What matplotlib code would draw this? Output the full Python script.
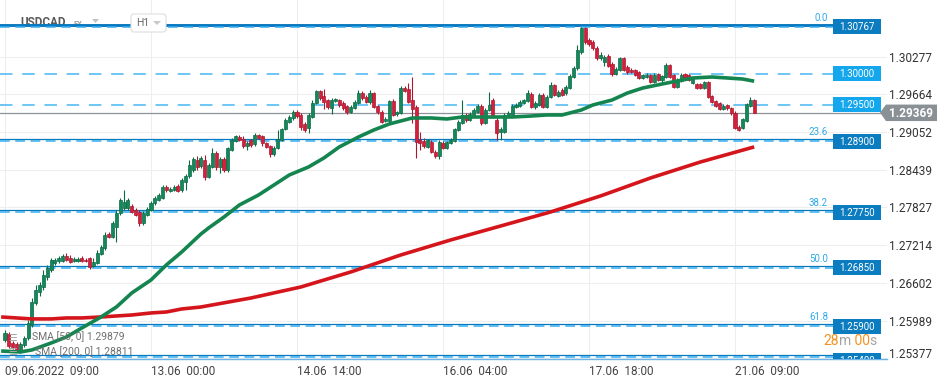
import matplotlib
matplotlib.use('Agg')
import matplotlib.pyplot as plt
import numpy as np
from matplotlib.patches import Rectangle, Polygon, FancyBboxPatch
from matplotlib.transforms import IdentityTransform

plt.rcParams['font.family'] = ['Roboto', 'DejaVu Sans']
plt.rcParams['lines.scale_dashes'] = False

# ---------------- data (USDCAD, H1) ----------------
opens = [
    1.25674, 1.25772, 1.25625, 1.25609, 1.25512, 1.25593, 1.25707, 1.25918, 1.26275, 1.26454,
    1.26535, 1.26698, 1.26811, 1.26925, 1.26958, 1.26958, 1.27039, 1.27006, 1.26958, 1.26958,
    1.27006, 1.26974, 1.27006, 1.26876, 1.26925, 1.27071, 1.27169, 1.27396, 1.27347, 1.27510,
    1.27737, 1.27819, 1.27819, 1.27851, 1.27786, 1.27754, 1.27575, 1.27705, 1.27786, 1.27900,
    1.27949, 1.27981, 1.28160, 1.28095, 1.28111, 1.28176, 1.28111, 1.28241, 1.28339, 1.28436,
    1.28598, 1.28501, 1.28598, 1.28322, 1.28485, 1.28712, 1.28485, 1.28615, 1.28436, 1.28761,
    1.28907, 1.28972, 1.28940, 1.28826, 1.28923, 1.28858, 1.29005, 1.28988, 1.28875, 1.28826,
    1.28696, 1.28793, 1.28923, 1.29102, 1.29216, 1.29281, 1.29378, 1.29330, 1.29183, 1.29118,
    1.29297, 1.29525, 1.29720, 1.29638, 1.29573, 1.29443, 1.29557, 1.29573, 1.29525, 1.29476,
    1.29378, 1.29443, 1.29525, 1.29687, 1.29622, 1.29541, 1.29687, 1.29476, 1.29378, 1.29232,
    1.29232, 1.29557, 1.29346, 1.29362, 1.29768, 1.29752, 1.29573, 1.29460, 1.28923, 1.28907,
    1.28810, 1.28891, 1.28728, 1.28663, 1.28875, 1.28793, 1.28875, 1.28907, 1.29086, 1.29200,
    1.29330, 1.29248, 1.29330, 1.29378, 1.29476, 1.29200, 1.29411, 1.29573, 1.29248, 1.29053,
    1.29053, 1.29313, 1.29330, 1.29460, 1.29476, 1.29525, 1.29557, 1.29671, 1.29460, 1.29492,
    1.29655, 1.29460, 1.29622, 1.29817, 1.29638, 1.29736, 1.29687, 1.29768, 1.29947, 1.30093,
    1.30353, 1.30743, 1.30548, 1.30516, 1.30418, 1.30256, 1.30191, 1.30288, 1.30158, 1.29996,
    1.30061, 1.30256, 1.30109, 1.30061, 1.30061, 1.30028, 1.29931, 1.29947, 1.29979, 1.29866,
    1.29996, 1.29898, 1.29947, 1.30142, 1.29979, 1.29785, 1.29882, 1.29996, 1.29979, 1.29849,
    1.29833, 1.29833, 1.29768, 1.29866, 1.29638, 1.29557, 1.29525, 1.29427, 1.29492, 1.29443,
    1.29362, 1.29135, 1.29118, 1.29232, 1.29476, 1.29573]

closes = [
    1.25788, 1.25577, 1.25560, 1.25512, 1.25609, 1.25707, 1.25950, 1.26291, 1.26486, 1.26568,
    1.26730, 1.26844, 1.26974, 1.26974, 1.27006, 1.27039, 1.26974, 1.26941, 1.26990, 1.26990,
    1.26958, 1.26958, 1.26860, 1.26941, 1.27088, 1.27185, 1.27380, 1.27347, 1.27575, 1.27737,
    1.27949, 1.27916, 1.27949, 1.27754, 1.27705, 1.27575, 1.27737, 1.27802, 1.27900, 1.27981,
    1.28030, 1.28160, 1.28111, 1.28127, 1.28160, 1.28095, 1.28274, 1.28339, 1.28517, 1.28615,
    1.28485, 1.28631, 1.28322, 1.28517, 1.28712, 1.28485, 1.28615, 1.28436, 1.28793, 1.28923,
    1.28988, 1.28923, 1.28826, 1.28875, 1.28842, 1.29005, 1.28956, 1.28875, 1.28810, 1.28696,
    1.28793, 1.28940, 1.29102, 1.29248, 1.29297, 1.29378, 1.29313, 1.29135, 1.29086, 1.29330,
    1.29525, 1.29720, 1.29606, 1.29541, 1.29460, 1.29573, 1.29590, 1.29492, 1.29443, 1.29378,
    1.29460, 1.29541, 1.29687, 1.29606, 1.29541, 1.29687, 1.29460, 1.29378, 1.29216, 1.29265,
    1.29557, 1.29330, 1.29378, 1.29768, 1.29720, 1.29541, 1.29427, 1.28891, 1.28875, 1.28826,
    1.28923, 1.28728, 1.28663, 1.28891, 1.28793, 1.28891, 1.28923, 1.29102, 1.29216, 1.29330,
    1.29248, 1.29346, 1.29411, 1.29476, 1.29200, 1.29411, 1.29492, 1.29297, 1.29037, 1.29102,
    1.29330, 1.29362, 1.29476, 1.29492, 1.29541, 1.29573, 1.29687, 1.29460, 1.29525, 1.29655,
    1.29460, 1.29622, 1.29817, 1.29655, 1.29703, 1.29655, 1.29785, 1.29963, 1.30093, 1.30386,
    1.30743, 1.30516, 1.30483, 1.30418, 1.30256, 1.30304, 1.30272, 1.30126, 1.29996, 1.30077,
    1.30256, 1.30061, 1.30028, 1.30028, 1.29979, 1.29931, 1.29979, 1.29979, 1.29866, 1.29979,
    1.29898, 1.29963, 1.30142, 1.29947, 1.29785, 1.29898, 1.29979, 1.29914, 1.29898, 1.29931,
    1.29768, 1.29768, 1.29866, 1.29622, 1.29541, 1.29476, 1.29427, 1.29476, 1.29443, 1.29362,
    1.29118, 1.29086, 1.29265, 1.29508, 1.29573, 1.29369]

highs = [
    1.25836, 1.25804, 1.25658, 1.25642, 1.25642, 1.25739, 1.25999, 1.26356, 1.26568, 1.26616,
    1.26811, 1.26893, 1.27006, 1.27006, 1.27039, 1.27071, 1.27088, 1.27055, 1.27023, 1.27023,
    1.27039, 1.27006, 1.27023, 1.27006, 1.27136, 1.27217, 1.27429, 1.27429, 1.27607, 1.27786,
    1.27981, 1.28111, 1.27981, 1.27884, 1.27819, 1.27786, 1.27770, 1.27835, 1.27932, 1.28014,
    1.28062, 1.28192, 1.28192, 1.28160, 1.28192, 1.28209, 1.28306, 1.28371, 1.28598, 1.28647,
    1.28663, 1.28663, 1.28680, 1.28550, 1.28793, 1.28745, 1.28647, 1.28647, 1.28810, 1.28956,
    1.29005, 1.29005, 1.28988, 1.28907, 1.28940, 1.29037, 1.29021, 1.29005, 1.28891, 1.28842,
    1.28826, 1.29086, 1.29118, 1.29281, 1.29330, 1.29411, 1.29411, 1.29362, 1.29216, 1.29362,
    1.29573, 1.29736, 1.29736, 1.29752, 1.29590, 1.29606, 1.29606, 1.29590, 1.29557, 1.29492,
    1.29492, 1.29573, 1.29736, 1.29720, 1.29655, 1.29736, 1.29703, 1.29492, 1.29411, 1.29297,
    1.29573, 1.29590, 1.29395, 1.29801, 1.29801, 1.29849, 1.29947, 1.29492, 1.29053, 1.28956,
    1.28940, 1.28923, 1.28761, 1.28923, 1.28907, 1.28907, 1.28956, 1.29118, 1.29248, 1.29573,
    1.29362, 1.29378, 1.29443, 1.29508, 1.29508, 1.29443, 1.29703, 1.29606, 1.29281, 1.29135,
    1.29362, 1.29395, 1.29508, 1.29525, 1.29573, 1.29590, 1.29736, 1.29703, 1.29557, 1.29687,
    1.29687, 1.29655, 1.29866, 1.29833, 1.29736, 1.29768, 1.29817, 1.29996, 1.30126, 1.30467,
    1.30767, 1.30759, 1.30581, 1.30548, 1.30451, 1.30353, 1.30304, 1.30321, 1.30191, 1.30109,
    1.30272, 1.30272, 1.30142, 1.30093, 1.30077, 1.30044, 1.29996, 1.30012, 1.29996, 1.30012,
    1.30012, 1.29979, 1.30174, 1.30158, 1.29996, 1.29931, 1.30012, 1.30012, 1.29996, 1.29947,
    1.29849, 1.29849, 1.29882, 1.29882, 1.29655, 1.29573, 1.29541, 1.29508, 1.29508, 1.29460,
    1.29395, 1.29167, 1.29281, 1.29525, 1.29622, 1.29590]

lows = [
    1.25642, 1.25544, 1.25528, 1.25479, 1.25463, 1.25560, 1.25674, 1.25885, 1.26243, 1.26389,
    1.26486, 1.26649, 1.26779, 1.26893, 1.26925, 1.26941, 1.26958, 1.26925, 1.26941, 1.26941,
    1.26941, 1.26941, 1.26828, 1.26860, 1.26909, 1.27055, 1.27136, 1.27331, 1.27331, 1.27266,
    1.27705, 1.27786, 1.27786, 1.27737, 1.27689, 1.27526, 1.27542, 1.27689, 1.27770, 1.27867,
    1.27932, 1.27965, 1.28079, 1.28079, 1.28095, 1.28079, 1.28079, 1.28111, 1.28306, 1.28404,
    1.28436, 1.28469, 1.28274, 1.28306, 1.28469, 1.28436, 1.28387, 1.28404, 1.28404, 1.28745,
    1.28891, 1.28907, 1.28793, 1.28761, 1.28810, 1.28826, 1.28940, 1.28826, 1.28793, 1.28647,
    1.28663, 1.28777, 1.28907, 1.29086, 1.29200, 1.29248, 1.29281, 1.29086, 1.29053, 1.29037,
    1.29281, 1.29508, 1.29573, 1.29427, 1.29427, 1.29346, 1.29541, 1.29460, 1.29411, 1.29346,
    1.29362, 1.29427, 1.29508, 1.29573, 1.29525, 1.29508, 1.29443, 1.29346, 1.29200, 1.29216,
    1.29216, 1.29313, 1.29313, 1.29346, 1.29703, 1.29525, 1.29200, 1.28631, 1.28761, 1.28793,
    1.28793, 1.28712, 1.28631, 1.28615, 1.28777, 1.28777, 1.28858, 1.28891, 1.29070, 1.29183,
    1.29216, 1.29232, 1.29313, 1.29362, 1.29167, 1.29183, 1.29395, 1.29281, 1.28923, 1.28923,
    1.29037, 1.29297, 1.29313, 1.29443, 1.29460, 1.29508, 1.29541, 1.29443, 1.29427, 1.29476,
    1.29443, 1.29443, 1.29606, 1.29638, 1.29622, 1.29638, 1.29655, 1.29752, 1.29931, 1.30061,
    1.30321, 1.30483, 1.30451, 1.30386, 1.30223, 1.30223, 1.30126, 1.30109, 1.29963, 1.29979,
    1.30044, 1.30044, 1.29996, 1.30012, 1.29963, 1.29914, 1.29914, 1.29931, 1.29849, 1.29849,
    1.29882, 1.29866, 1.29931, 1.29931, 1.29768, 1.29768, 1.29866, 1.29898, 1.29882, 1.29833,
    1.29752, 1.29752, 1.29752, 1.29606, 1.29525, 1.29460, 1.29411, 1.29411, 1.29411, 1.29330,
    1.29102, 1.29070, 1.29102, 1.29216, 1.29460, 1.29362]

# SMA readings (candle index, value)
sma50_idx = [-1, 4, 7, 12, 16, 20, 25, 29, 33, 38, 42, 46, 51, 53, 57, 61, 66, 70, 74, 79,
             83, 87, 92, 96, 100, 102, 106, 111, 115, 119, 124, 128, 132, 137, 141, 145, 150,
             153, 158, 162, 166, 171, 175, 179, 184, 188, 192, 195]
sma50 = [1.25495, 1.25479, 1.25512, 1.25625, 1.25723, 1.25869, 1.26048, 1.26210, 1.26438,
         1.26649, 1.26893, 1.27104, 1.27396, 1.27494, 1.27672, 1.27867, 1.28030, 1.28192,
         1.28355, 1.28485, 1.28631, 1.28810, 1.28972, 1.29086, 1.29183, 1.29216, 1.29281,
         1.29281, 1.29265, 1.29297, 1.29297, 1.29297, 1.29297, 1.29313, 1.29330, 1.29330,
         1.29411, 1.29492, 1.29573, 1.29687, 1.29768, 1.29833, 1.29882, 1.29931, 1.29947,
         1.29931, 1.29914, 1.29879]
sma200_idx = [-1, 3, 7, 12, 16, 20, 25, 29, 33, 38, 42, 46, 51, 64, 77, 90, 103, 116, 129,
              142, 155, 168, 181, 195]
sma200 = [1.26048, 1.26032, 1.26016, 1.26016, 1.26032, 1.26032, 1.26048, 1.26064, 1.26080,
          1.26113, 1.26129, 1.26178, 1.26210, 1.26356, 1.26535, 1.26779, 1.27055, 1.27299,
          1.27526, 1.27754, 1.28014, 1.28306, 1.28566, 1.28811]

xtick_pos = [0, 38, 76, 114, 152, 190]
xtick_labels = ['09.06.2022  09:00', '13.06  00:00', '14.06  14:00',
                '16.06  04:00', '17.06  18:00', '21.06  09:00']
ytick_vals = [1.30277, 1.29664, 1.29052, 1.28439, 1.27827, 1.27214, 1.26602, 1.25989, 1.25377]

fib_levels = [1.30767, 1.28900, 1.27750, 1.26850, 1.25900, 1.25400]
fib_names = ['0.0', '23.6', '38.2', '50.0', '61.8', '']
price_levels = [1.30000, 1.29500]
last_price = 1.29369
sma_legend = ['SMA [50, 0] 1.29879', 'SMA [200, 0] 1.28811']

# ---------------- figure ----------------
W, H = 949, 385
AXW, AXH = 887, 359
STEP = 3.842  # px per candle
fig = plt.figure(figsize=(W / 100, H / 100), dpi=100)
fig.patch.set_facecolor('white')
ax = fig.add_axes([0, 1 - AXH / H, AXW / W, AXH / H])
x0 = -5 / STEP
ax.set_xlim(x0, x0 + AXW / STEP)
ax.set_ylim(1.25365, 1.31198)
ax.set_facecolor('white')
ppx = (1.31198 - 1.25365) / AXH  # price per pixel
ID = IdentityTransform()


def ypx(v):
    return ax.transData.transform((0, v))[1]


# grid / axes
ax.set_yticks(ytick_vals)
ax.set_yticklabels([f'{v:.5f}' for v in ytick_vals])
ax.yaxis.tick_right()
ax.tick_params(axis='y', length=0, pad=1.5, labelsize=8.5, labelcolor='#333333')
ax.set_xticks(xtick_pos)
ax.set_xticklabels(xtick_labels)
ax.tick_params(axis='x', length=0, pad=4, labelsize=8.5, labelcolor='#444444')
for lbl in ax.get_xticklabels():
    lbl.set_ha('left')
ax.get_yticklabels()[-1].set_va('baseline')
ax.grid(True, color='#eeeeee', lw=0.8, zorder=0)
ax.set_axisbelow(True)
for s in ['top', 'right', 'left']:
    ax.spines[s].set_visible(False)
ax.spines['bottom'].set_color('#6db3ea')
ax.spines['bottom'].set_linewidth(1.0)

xmax_line = 833 / AXW

# fib levels: solid line slightly above, dashed on the level
for k, lv in enumerate(fib_levels):
    lw = 2.1 if k == 0 else 0.9
    ax.axhline(lv + 2 * ppx, xmin=0, xmax=xmax_line, color='#0a78bf', lw=lw, zorder=2)
    ax.axhline(lv, xmin=0, xmax=xmax_line, color='#35aef0', lw=1.1,
               ls=(0, (7, 4)), zorder=2)
for lv in price_levels:
    ax.axhline(lv, xmin=0, xmax=xmax_line, color='#45b6f2', lw=1.1,
               ls=(0, (9, 7)), zorder=2)
ax.axhline(last_price, xmin=0, xmax=880 / AXW, color='#8e9398', lw=0.9, zorder=2)

# candles
idx = np.arange(len(closes))
o = np.array(opens)
c = np.array(closes)
hi = np.array(highs)
lo = np.array(lows)
up = c >= o
body_col = np.where(up, '#13885a', '#d3213d')
edge_col = np.where(up, '#0c6a45', '#a9182f')
ax.vlines(idx, lo, hi, colors=edge_col, lw=0.8, zorder=3)
ax.bar(idx, np.maximum(np.abs(c - o), 1.2 * ppx), bottom=np.minimum(o, c), width=0.8,
       color=body_col, edgecolor=edge_col, linewidth=0.5, zorder=4)

# SMAs
ax.plot(sma200_idx, sma200, color='#d4161c', lw=2.6, zorder=5, solid_capstyle='butt')
ax.plot(sma50_idx, sma50, color='#14854f', lw=2.6, zorder=5, solid_capstyle='butt')


# level boxes
def level_box(v, fc, txt, dy=0.0):
    yc = ypx(v) + dy
    r = Rectangle((833, yc - 7.5), 48, 15, transform=ID, fc=fc, ec='none', zorder=10)
    r.set_clip_box(ax.bbox)
    fig.add_artist(r)
    t = fig.text(857, yc - 0.5, txt, transform=ID, ha='center', va='center',
                 color='white', fontsize=7, zorder=11)
    t.set_clip_box(ax.bbox)
    t.set_clip_on(True)


for lv, nm in zip(fib_levels, fib_names):
    # the lowest tag sits against the bottom edge and is mostly cut off
    level_box(lv, '#0c7cc1', f'{lv:.5f}', dy=0.0 if nm else -4.0)
    if nm:
        fig.text(828, ypx(lv) + 2 + 7, nm, transform=ID, ha='right', va='center',
                 color='#2ea9ea', fontsize=7, zorder=11)
for lv in price_levels:
    level_box(lv, '#14a7ee', f'{lv:.5f}')

# last price tag
yc = ypx(last_price)
poly = Polygon([(880, yc), (886, yc + 8), (937, yc + 8), (937, yc - 8.5), (886, yc - 8.5)],
               closed=True, transform=ID, fc='#8a9196', ec='none', zorder=10)
fig.add_artist(poly)
fig.text(911, yc - 0.5, f'{last_price:.5f}', transform=ID, ha='center', va='center',
         color='white', fontsize=8.5, fontweight='bold', zorder=11)

# countdown
rend = fig.canvas.get_renderer()
xx = 823
for s, col in [('28', '#f6921e'), ('m', '#a3a3a3'), (' 00', '#f6921e'), ('s', '#a3a3a3')]:
    t = fig.text(xx, H - 341, s, transform=ID, ha='left', va='center', color=col,
                 fontsize=10, zorder=12)
    xx = t.get_window_extent(rend).x1

# header
ax.text(20, H - 22, 'USDCAD', transform=ID, fontsize=8.5, fontweight='bold',
        color='#5a5a5a', va='center', ha='left', zorder=1)
ax.text(73, H - 23, 'FX', transform=ID, fontsize=5.5, fontweight='bold',
        color='#a0a0a0', va='center', ha='left', zorder=1)
fig.add_artist(Polygon([(92, H - 19), (99, H - 19), (95.5, H - 23)], closed=True,
                       transform=ID, fc='#c4c4c4', ec='none', zorder=1))
fig.add_artist(FancyBboxPatch((131, H - 32), 35, 18,
                              boxstyle='round,pad=0,rounding_size=3', transform=ID,
                              fc='white', ec='#dedede', lw=0.8, zorder=1))
fig.text(136, H - 23, 'H1', transform=ID, fontsize=7.5, color='#666666',
         va='center', ha='left', zorder=2)
fig.add_artist(Polygon([(153, H - 21), (161, H - 21), (157, H - 25)], closed=True,
                       transform=ID, fc='#c8c8c8', ec='none', zorder=2))

# SMA legend
fig.text(8, H - 338, '\u2630', transform=ID, fontsize=7, color='#a8a8a8', va='center', zorder=12)
fig.text(8, H - 352, '\u2630', transform=ID, fontsize=7, color='#a8a8a8', va='center', zorder=12)
fig.text(32, H - 337, sma_legend[0], transform=ID, fontsize=7.5, color='#707070',
         va='center', ha='left', zorder=12)
fig.text(35, H - 352, sma_legend[1], transform=ID, fontsize=7.5, color='#707070',
         va='center', ha='left', zorder=12)

fig.savefig('out.png', dpi=100, facecolor='white')
